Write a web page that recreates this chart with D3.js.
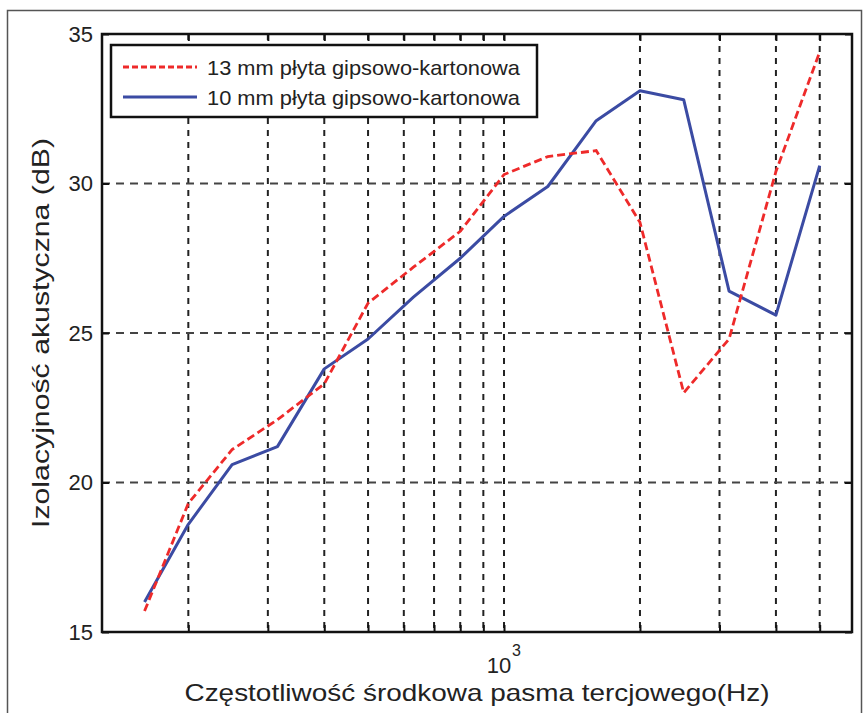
<!DOCTYPE html>
<html>
<head>
<meta charset="utf-8">
<script src="https://cdn.jsdelivr.net/npm/d3@7"></script>
<style>
  html, body { margin: 0; padding: 0; background: #fff; }
  svg { display: block; }
  text { font-family: "Liberation Sans", Arial, Helvetica, sans-serif; fill: #222; }
</style>
</head>
<body>
<svg id="chart" width="868" height="713"></svg>
<script>
// ---- data ----
const freqs = [160, 200, 250, 315, 400, 500, 630, 800, 1000, 1250, 1600, 2000, 2500, 3150, 4000, 5000];
const series13 = [15.7, 19.3, 21.1, 22.1, 23.3, 26.0, 27.2, 28.4, 30.3, 30.9, 31.1, 28.7, 23.0, 24.8, 30.4, 34.4];
const series10 = [16.0, 18.6, 20.6, 21.2, 23.8, 24.8, 26.2, 27.5, 28.9, 29.9, 32.1, 33.1, 32.8, 26.4, 25.6, 30.6];
const seriesNames = ["13 mm płyta gipsowo-kartonowa", "10 mm płyta gipsowo-kartonowa"];
const xGridTicks = [200, 300, 400, 500, 600, 700, 800, 900, 1000, 2000, 3000, 4000, 5000];
const xLabelTicks = [1000];
const yTicks = [15, 20, 25, 30, 35];
const xTitle = "Częstotliwość środkowa pasma tercjowego(Hz)";
const yTitle = "Izolacyjność akustyczna (dB)";

// ---- layout ----
const svg = d3.select("#chart");
const L = 102, R = 852, T = 34, B = 632;

const x = d3.scaleLog().domain([128.8, 5895]).range([L, R]);
const y = d3.scaleLinear().domain([15, 35]).range([B, T]);

// outer frame
svg.append("rect").attr("x", 7.5).attr("y", 10.5).attr("width", 854).attr("height", 720)
  .attr("fill", "none").attr("stroke", "#555").attr("stroke-width", 1.5);

// grid
const g = svg.append("g");
g.selectAll("line.vg").data(xGridTicks).join("line")
  .attr("x1", d => x(d)).attr("x2", d => x(d)).attr("y1", T).attr("y2", B)
  .attr("stroke", "#222").attr("stroke-width", 2).attr("stroke-dasharray", "6,6");
g.selectAll("line.hg").data(yTicks.slice(1, -1)).join("line")
  .attr("x1", L).attr("x2", R).attr("y1", d => y(d)).attr("y2", d => y(d))
  .attr("stroke", "#444").attr("stroke-width", 2).attr("stroke-dasharray", "8,6");

// axes with inward ticks
const xb = d3.axisBottom(x).tickValues(xGridTicks).tickSize(-7).tickFormat("");
const xt = d3.axisTop(x).tickValues(xGridTicks).tickSize(-7).tickFormat("");
const yl = d3.axisLeft(y).tickValues(yTicks).tickSize(-7).tickFormat("");
const yr = d3.axisRight(y).tickValues(yTicks).tickSize(-7).tickFormat("");
[[xb, `translate(0,${B})`], [xt, `translate(0,${T})`], [yl, `translate(${L},0)`], [yr, `translate(${R},0)`]]
  .forEach(([ax, tr]) => {
    const a = svg.append("g").attr("transform", tr).call(ax);
    a.select(".domain").remove();
    a.selectAll("line").attr("stroke", "#111").attr("stroke-width", 2);
  });

// y tick labels
svg.selectAll("text.yt").data(yTicks).join("text")
  .attr("x", L - 9).attr("y", d => y(d)).attr("dy", "0.36em")
  .attr("text-anchor", "end").attr("font-size", 22).text(d => d);

// x tick label 10^3
xLabelTicks.forEach(v => {
  svg.append("text").attr("x", x(v) - 5).attr("y", 673).attr("text-anchor", "middle").attr("font-size", 22).text("10");
  svg.append("text").attr("x", x(v) + 8).attr("y", 656).attr("font-size", 16).text(Math.round(Math.log10(v)));
});

// titles
svg.append("text").attr("x", (L + R) / 2).attr("y", 701).attr("text-anchor", "middle")
  .attr("font-size", 24).attr("textLength", 585).attr("lengthAdjust", "spacingAndGlyphs").text(xTitle);
svg.append("text").attr("transform", `translate(49,${(T + B) / 2}) rotate(-90)`)
  .attr("text-anchor", "middle").attr("font-size", 24)
  .attr("textLength", 390).attr("lengthAdjust", "spacingAndGlyphs").text(yTitle);

// lines
const line = d3.line().x(d => x(d[0])).y(d => y(d[1]));
const lines = svg.append("g");
lines.append("path").datum(freqs.map((f, i) => [f, series10[i]]))
  .attr("d", line).attr("fill", "none").attr("stroke", "#3b4ba3").attr("stroke-width", 3)
  .attr("stroke-linejoin", "round");
lines.append("path").datum(freqs.map((f, i) => [f, series13[i]]))
  .attr("d", line).attr("fill", "none").attr("stroke", "#ee2a2a").attr("stroke-width", 2.8)
  .attr("stroke-dasharray", "8,4");

// axes box
svg.append("rect").attr("x", L).attr("y", T).attr("width", R - L).attr("height", B - T)
  .attr("fill", "none").attr("stroke", "#111").attr("stroke-width", 2.5);

// legend
const lg = svg.append("g");
lg.append("rect").attr("x", 111).attr("y", 45).attr("width", 426).attr("height", 72)
  .attr("fill", "#fff").attr("stroke", "#111").attr("stroke-width", 2.5);
const legendItems = [
  { name: seriesNames[0], color: "#ee2a2a", dash: "6,3", y: 67 },
  { name: seriesNames[1], color: "#3b4ba3", dash: null, y: 97 }
];
legendItems.forEach(it => {
  lg.append("line").attr("x1", 123).attr("x2", 197).attr("y1", it.y).attr("y2", it.y)
    .attr("stroke", it.color).attr("stroke-width", 3).attr("stroke-dasharray", it.dash);
  lg.append("text").attr("x", 207).attr("y", it.y).attr("dy", "0.36em")
    .attr("font-size", 21).attr("textLength", 313).attr("lengthAdjust", "spacingAndGlyphs").text(it.name);
});
</script>
</body>
</html>
